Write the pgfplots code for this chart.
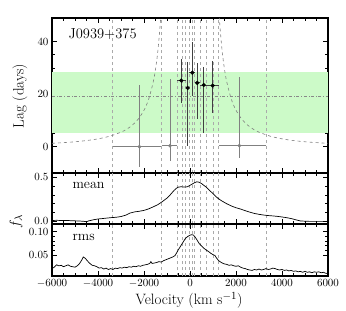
\documentclass[border=0pt]{standalone}
\usepackage{pgfplots}
\pgfplotsset{compat=1.18}
\usepackage{pgfplotstable}
\definecolor{bandgreen}{RGB}{204,250,200}
\definecolor{ptgray}{RGB}{128,128,128}
\definecolor{lngray}{RGB}{170,170,170}

\pgfplotstableread{
x y xem xep yem yep
-2200 0.0 1160 930 7.6 23.5
-870 0.4 360 290 5.9 25.3
}\grayleft
\pgfplotstableread{
x y xem xep yem yep
2145 0.4 900 1155 4.8 26.1
}\grayright
\pgfplotstableread{
x y xem xep yem yep
-378 25.2 197 188 8.4 8.2
-100 22.4 90 60 22.1 10.0
100 28.2 140 105 8.8 11.8
317 24.3 112 133 13.8 7.5
596 23.5 146 104 18.2 7.0
987 23.3 287 258 10.6 9.4
}\blackpts

\pgfplotsset{
  panel/.style={
    scale only axis, width=276pt,
    xmin=-6000, xmax=6000,
    xtick={-6000,-4000,...,6000},
    minor x tick num=3,
    tick align=inside,
    major tick length=5pt, minor tick length=2.8pt,
    every tick/.style={black, line width=0.8pt},
    axis line style={line width=1.2pt},
    tick label style={font=\fontsize{10.8}{12}\selectfont},
    clip=true,
  },
}

\begin{document}
\begin{tikzpicture}
\path[use as bounding box] (-52pt,18pt) rectangle (294pt,-293pt);

% ---------- top panel ----------
\begin{axis}[panel, name=top, at={(0pt,0pt)}, anchor=north west,
  height=155pt, ymin=-10, ymax=49,
  ytick={0,20,40}, minor y tick num=3,
  xticklabels={}]
\addplot[fill=bandgreen, draw=none] coordinates {(-6000,5.3) (6000,5.3) (6000,28.6) (-6000,28.6)} -- cycle;
\pgfplotsinvokeforeach{-3360,-1230,-575,-335,-190,-40,100,205,450,690,1000,1245,3300}{
  \addplot[lngray, dashed, line width=0.5pt] coordinates {(#1,-10) (#1,49)};
}
\addplot[lngray!80!black, dash dot, line width=0.6pt] coordinates {(-6000,19.3) (6000,19.3)};
\addplot[lngray!75!black, dashed, line width=0.6pt, smooth] coordinates {
(-6000,1.30) (-5500,1.56) (-5000,1.89) (-4500,2.35) (-4000,3.00) (-3500,3.98)
(-3000,5.54) (-2750,6.69) (-2500,8.27) (-2250,10.52) (-2000,13.9) (-1800,18.0)
(-1600,24.6) (-1500,29.5) (-1400,36.2) (-1300,46) (-1250,52.7) (-1200,61)};
\addplot[lngray!75!black, dashed, line width=0.6pt, smooth] coordinates {
(1200,61) (1250,52.7) (1300,46) (1400,36.2) (1500,29.5) (1600,24.6) (1800,18.0)
(2000,13.9) (2250,10.52) (2500,8.27) (2750,6.69) (3000,5.54) (3500,3.98)
(4000,3.00) (4500,2.35) (5000,1.89) (5500,1.56) (6000,1.30)};
\addplot[only marks, mark=*, mark size=1.6pt, color=ptgray,
  error bars/.cd, x dir=both, y dir=both, x explicit, y explicit,
  error bar style={ptgray, line width=0.9pt}, error mark=none]
  table[x=x, y=y, x error minus=xem, x error plus=xep, y error minus=yem, y error plus=yep] {\grayleft};
\addplot[only marks, mark=*, mark size=1.6pt, color=ptgray,
  error bars/.cd, x dir=both, y dir=both, x explicit, y explicit,
  error bar style={ptgray, line width=0.9pt}, error mark=none]
  table[x=x, y=y, x error minus=xem, x error plus=xep, y error minus=yem, y error plus=yep] {\grayright};
\addplot[only marks, mark=*, mark size=1.9pt, color=black,
  error bars/.cd, x dir=both, y dir=both, x explicit, y explicit,
  error bar style={black!75, line width=0.9pt}, error mark=none]
  table[x=x, y=y, x error minus=xem, x error plus=xep, y error minus=yem, y error plus=yep] {\blackpts};
\end{axis}

% ---------- middle panel ----------
\begin{axis}[panel, name=mid, at={(0pt,-155pt)}, anchor=north west,
  height=51pt, ymin=-0.03, ymax=0.55,
  ytick={0,0.5}, minor y tick num=4,
  yticklabel style={/pgf/number format/.cd, fixed, fixed zerofill, precision=1},
  xticklabels={}]
\pgfplotsinvokeforeach{-3360,-1230,-575,-335,-190,-40,100,205,450,690,1000,1245,3300}{
  \addplot[lngray, dashed, line width=0.5pt] coordinates {(#1,-0.03) (#1,0.55)};
}
\addplot[black, line width=0.7pt] coordinates {
(-6000,0.010) (-5800,0.012) (-5600,0.010) (-5400,0.011) (-5200,0.008) (-5000,0.006)
(-4800,0.004) (-4600,0.000) (-4500,-0.004) (-4400,0.006) (-4200,0.018) (-4000,0.027)
(-3800,0.032) (-3600,0.038) (-3400,0.043) (-3200,0.047) (-3000,0.055) (-2800,0.070)
(-2600,0.095) (-2400,0.108) (-2200,0.115) (-2000,0.125) (-1800,0.142) (-1600,0.165)
(-1400,0.190) (-1200,0.225) (-1000,0.265) (-900,0.290) (-800,0.320) (-700,0.350)
(-600,0.375) (-500,0.390) (-400,0.393) (-300,0.392) (-200,0.390) (-100,0.395)
(0,0.410) (100,0.425) (200,0.440) (300,0.450) (400,0.445) (500,0.430) (600,0.410)
(700,0.390) (800,0.365) (900,0.340) (1000,0.315) (1100,0.290) (1200,0.265)
(1400,0.230) (1600,0.200) (1800,0.175) (2000,0.155) (2200,0.140) (2400,0.122)
(2600,0.105) (2800,0.090) (3000,0.080) (3200,0.072) (3400,0.066) (3600,0.062)
(3800,0.057) (4000,0.050) (4200,0.042) (4400,0.032) (4600,0.018) (4800,0.005)
(5000,0.002) (5200,0.000) (5500,0.000) (6000,0.000)};
\end{axis}

% ---------- bottom panel ----------
\begin{axis}[panel, name=bot, at={(0pt,-206pt)}, anchor=north west,
  height=52pt, ymin=0.005, ymax=0.117,
  ytick={0.05,0.10}, minor y tick num=4,
  yticklabel style={/pgf/number format/.cd, fixed, fixed zerofill, precision=2},
  xticklabel style={/pgf/number format/.cd, set thousands separator={}}]
\pgfplotsinvokeforeach{-3360,-1230,-575,-335,-190,-40,100,205,450,690,1000,1245,3300}{
  \addplot[lngray, dashed, line width=0.5pt] coordinates {(#1,0.005) (#1,0.117)};
}
\addplot[black, line width=0.7pt] coordinates {
(-6000,0.021) (-5900,0.024) (-5800,0.029) (-5700,0.027) (-5600,0.028) (-5500,0.025)
(-5400,0.027) (-5300,0.029) (-5200,0.026) (-5100,0.025) (-5000,0.024) (-4900,0.027)
(-4800,0.032) (-4700,0.040) (-4640,0.046) (-4550,0.043) (-4450,0.037) (-4350,0.032)
(-4250,0.028) (-4150,0.027) (-4050,0.025) (-3950,0.022) (-3850,0.023) (-3750,0.020)
(-3650,0.022) (-3550,0.019) (-3450,0.021) (-3350,0.019) (-3250,0.022) (-3150,0.021)
(-3050,0.023) (-2950,0.022) (-2850,0.024) (-2750,0.023) (-2650,0.025) (-2550,0.024)
(-2450,0.026) (-2350,0.025) (-2250,0.027) (-2150,0.026) (-2050,0.028) (-1950,0.029)
(-1850,0.030) (-1750,0.032) (-1700,0.036) (-1650,0.032) (-1550,0.033) (-1450,0.034)
(-1350,0.036) (-1250,0.035) (-1150,0.038) (-1050,0.040) (-950,0.042) (-850,0.044)
(-750,0.046) (-650,0.049) (-580,0.055) (-500,0.062) (-400,0.070) (-300,0.078)
(-200,0.086) (-100,0.090) (0,0.093) (80,0.094) (150,0.093) (220,0.089) (300,0.083)
(400,0.075) (500,0.070) (600,0.065) (700,0.061) (800,0.058) (900,0.054) (1000,0.051)
(1087,0.049) (1150,0.044) (1230,0.039) (1300,0.036) (1400,0.033) (1500,0.031)
(1600,0.030) (1700,0.028) (1800,0.029) (1900,0.027) (2000,0.026) (2100,0.027)
(2200,0.024) (2300,0.022) (2400,0.021) (2500,0.019) (2600,0.018) (2700,0.017)
(2800,0.019) (2900,0.018) (3000,0.020) (3100,0.018) (3200,0.019) (3300,0.021)
(3400,0.019) (3500,0.020) (3600,0.022) (3700,0.021) (3800,0.019) (3900,0.018)
(4000,0.019) (4100,0.017) (4200,0.018) (4300,0.016) (4400,0.017) (4500,0.015)
(4600,0.016) (4700,0.014) (4800,0.015) (4900,0.013) (5000,0.015) (5100,0.013)
(5200,0.014) (5300,0.012) (5400,0.014) (5500,0.013) (5600,0.014) (5700,0.012)
(5800,0.013) (5900,0.011) (6000,0.010)};
\end{axis}

% ---------- text ----------
\node[anchor=west, font=\fontsize{14.5}{17}\selectfont] at (13pt,-16.5pt) {J0939+375};
\node[anchor=west, font=\fontsize{14}{16}\selectfont] at (17pt,-167pt) {mean};
\node[anchor=west, font=\fontsize{14}{16}\selectfont] at (17pt,-219pt) {rms};
\node[rotate=90, font=\fontsize{15}{18}\selectfont] at (-32pt,-78pt) {Lag (days)};
\node[rotate=90, font=\fontsize{15}{18}\selectfont] at (-36pt,-204pt) {$f_\lambda$};
\node[font=\fontsize{15}{18}\selectfont] at (137pt,-282.5pt) {Velocity (km s$^{-1}$)};
\end{tikzpicture}
\end{document}
